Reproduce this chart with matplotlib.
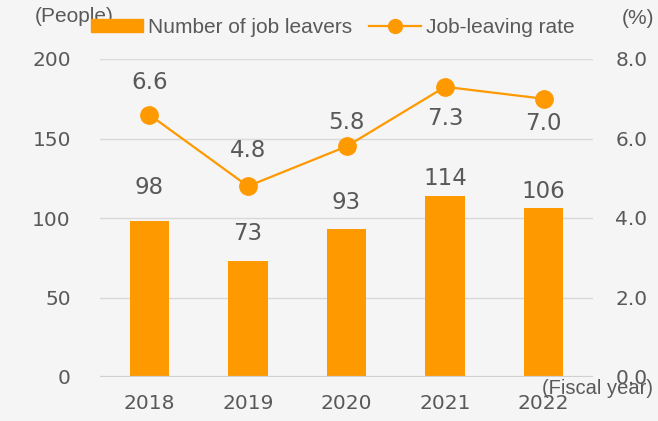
import matplotlib.pyplot as plt
from matplotlib.patches import Rectangle
from matplotlib.lines import Line2D

years = ['2018', '2019', '2020', '2021', '2022']
leavers = [98, 73, 93, 114, 106]
rate = [6.6, 4.8, 5.8, 7.3, 7.0]

# label offsets in points (center of text relative to bar top / marker)
bar_lbl_off = [24, 20, 19.5, 12.5, 12]
rate_lbl_off = [23.5, 26, 17.5, -22.5, -18]

orange = '#ff9900'
grey_txt = '#595959'
bg = '#f5f5f5'

fig = plt.figure(figsize=(6.58, 4.21), dpi=100, facecolor=bg)
ax = fig.add_axes([100/658, 44/421, 493/658, 318/421])
ax.set_facecolor(bg)
ax2 = ax.twinx()

x = list(range(len(years)))
ax.bar(x, leavers, width=0.4, color=orange, zorder=2)
ax.set_ylim(0, 200)
ax.set_xlim(-0.5, 4.5)
ax.set_yticks([0, 50, 100, 150, 200])
ax.yaxis.grid(True, color='#d9d9d9', linewidth=1)
ax.axhline(0, color='#d0d0d0', linewidth=1.6, zorder=3)
ax.set_axisbelow(True)
ax.set_xticks(x)
ax.set_xticklabels(years)

ax2.plot(x, rate, color=orange, linewidth=1.6, marker='o', markersize=12.5, zorder=5)
ax2.set_ylim(0, 8)
ax2.set_yticks([0, 2, 4, 6, 8])
ax2.set_yticklabels(['0.0', '2.0', '4.0', '6.0', '8.0'])

for a in (ax, ax2):
    for s in a.spines.values():
        s.set_visible(False)
    a.tick_params(length=0, colors=grey_txt, labelsize=14.5)
ax.tick_params(axis='y', pad=21)
ax.tick_params(axis='x', pad=12)
ax2.tick_params(axis='y', pad=16)
for t in ax.get_xticklabels() + ax.get_yticklabels() + ax2.get_yticklabels():
    t.set_fontfamily('DejaVu Sans')

for i, v in enumerate(leavers):
    ax.annotate(str(v), (i, v), xytext=(0, bar_lbl_off[i]), textcoords='offset points',
                ha='center', va='center', fontsize=16.5, color=grey_txt)
for i, v in enumerate(rate):
    ax2.annotate('%.1f' % v, (i, v), xytext=(0, rate_lbl_off[i]), textcoords='offset points',
                 ha='center', va='center', fontsize=16.5, color=grey_txt)

handles = [Rectangle((0, 0), 1, 1, color=orange),
           Line2D([], [], color=orange, linewidth=1.6, marker='o', markersize=10)]
leg = fig.legend(handles, ['Number of job leavers', 'Job-leaving rate'],
                 loc='center left', bbox_to_anchor=(91/658, 1 - 27.5/421), ncol=2,
                 frameon=False, borderpad=0, borderaxespad=0,
                 handlelength=2.5, handleheight=0.53, handletextpad=0.25, columnspacing=0.8,
                 prop={'family': 'Liberation Sans', 'size': 15})
for t in leg.get_texts():
    t.set_color(grey_txt)

fig.text(74/658, 1 - 17/421, '(People)', ha='center', va='center', fontsize=15,
         family='Liberation Sans', color=grey_txt)
fig.text(638/658, 1 - 18/421, '(%)', ha='center', va='center', fontsize=15,
         family='Liberation Sans', color=grey_txt)
fig.text(598/658, 1 - 389/421, '(Fiscal year)', ha='center', va='center', fontsize=14.5,
         family='Liberation Sans', color=grey_txt)

fig.savefig('out.png', dpi=100, facecolor=bg)
